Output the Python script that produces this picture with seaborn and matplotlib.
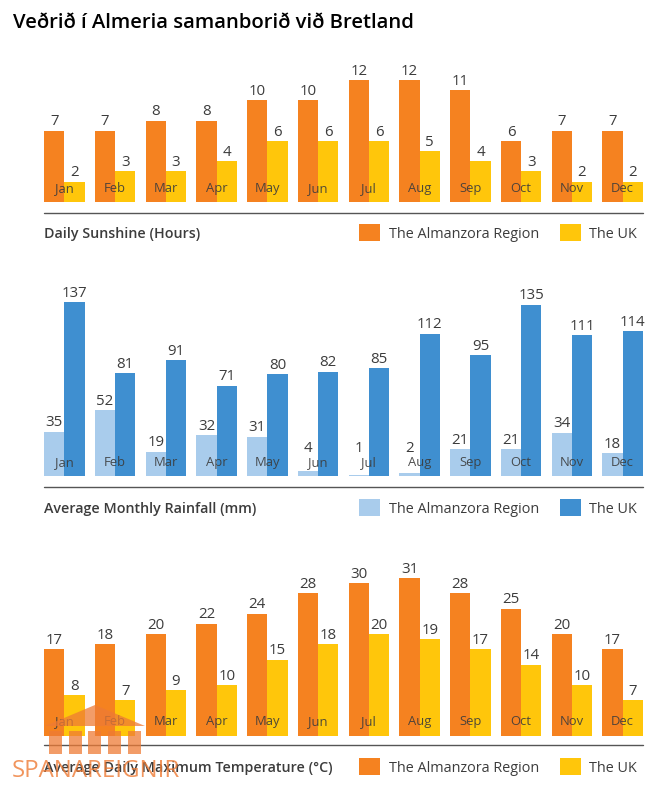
import pandas as pd
import matplotlib.pyplot as plt
import seaborn as sns
from matplotlib.lines import Line2D
from matplotlib.patches import Polygon, Rectangle

months = ['Jan', 'Feb', 'Mar', 'Apr', 'May', 'Jun', 'Jul', 'Aug', 'Sep', 'Oct', 'Nov', 'Dec']
series_names = ['The Almanzora Region', 'The UK']

sun_region = [7, 7, 8, 8, 10, 10, 12, 12, 11, 6, 7, 7]
sun_uk = [2, 3, 3, 4, 6, 6, 6, 5, 4, 3, 2, 2]
rain_region = [35, 52, 19, 32, 31, 4, 1, 2, 21, 21, 34, 18]
rain_uk = [137, 81, 91, 71, 80, 82, 85, 112, 95, 135, 111, 114]
temp_region = [17, 18, 20, 22, 24, 28, 30, 31, 28, 25, 20, 17]
temp_uk = [8, 7, 9, 10, 15, 18, 20, 19, 17, 14, 10, 7]

W, H = 663, 791
TEXT = '#3c3c3c'

sns.set_theme(style='white')
plt.rcParams['font.family'] = ['Open Sans', 'DejaVu Sans']

fig = plt.figure(figsize=(W / 100, H / 100), dpi=100)


def fx(px):
    return px / W


def fy(py):
    return 1 - py / H


def panel(region, uk, colors, title, base, scale, line_y, label_y, month_off):
    df = pd.DataFrame({
        'month': months * 2,
        'value': region + uk,
        'series': [series_names[0]] * 12 + [series_names[1]] * 12,
    })
    top = base - 185
    ax = fig.add_axes([fx(39), fy(base), fx(609), (base - top) / H])
    sns.barplot(data=df, x='month', y='value', hue='series', hue_order=series_names,
                palette=dict(zip(series_names, colors)), width=0.8, gap=0,
                saturation=1, linewidth=0, ax=ax)
    ax.set_xlim(-0.5, 11.5)
    ax.set_ylim(0, (base - top) / scale)
    for bars in ax.containers:
        texts = ax.bar_label(bars, padding=1, fontsize=10.8, color=TEXT)
        # very short bars get their number lifted clear of the month name
        for t, b in zip(texts, bars):
            px_high = b.get_height() * scale
            if px_high < 20:
                t.xyann = (0, (20 - px_high) * 0.72)
    for i, m in enumerate(months):
        ax.annotate(m, (i, 0), xytext=(0, month_off), textcoords='offset points',
                    ha='center', va='center', fontsize=9.4, color=TEXT, alpha=0.9)
    handles, labels = ax.get_legend_handles_labels()
    ax.get_legend().remove()
    ax.axis('off')

    fig.add_artist(Line2D([fx(44), fx(643)], [fy(line_y)] * 2, color='#555555', lw=1))
    fig.text(fx(44), fy(label_y + 1), title, fontsize=10.3, fontweight='semibold',
             color=TEXT, va='center')
    fig.legend(handles, labels, loc='center left', frameon=False, ncol=2,
               bbox_to_anchor=(fx(359), fy(label_y)), fontsize=10.4, labelcolor=TEXT,
               handlelength=1.45, handleheight=1.45, handletextpad=0.6,
               columnspacing=1.45, borderaxespad=0, borderpad=0)


orange, yellow = '#F58220', '#FFC60B'
panel(sun_region, sun_uk, [orange, yellow], 'Daily Sunshine (Hours)', 202, 10.17, 213, 233, 9.5)
panel(rain_region, rain_uk, ['#A9CCEC', '#3F8FD0'], 'Average Monthly Rainfall (mm)', 476, 1.27, 487, 508, 9.5)
panel(temp_region, temp_uk, [orange, yellow], 'Average Daily Maximum Temperature (°C)', 736, 5.1, 745, 767, 10.5)

fig.text(fx(13), fy(22.5), 'Veðrið í Almeria samanborið við Bretland', fontsize=14.55,
         fontweight='semibold', color='black', va='center')

# watermark
wm = '#EE7B35'
fig.add_artist(Polygon([(fx(45), fy(726)), (fx(95), fy(705)), (fx(145), fy(726))],
                       transform=fig.transFigure, facecolor=wm, edgecolor='none',
                       alpha=0.75, zorder=10))
for left in [49, 69, 88, 108, 128]:
    fig.add_artist(Rectangle((fx(left), fy(754)), fx(12.5), 23 / H, transform=fig.transFigure,
                             facecolor=wm, edgecolor='none', alpha=0.75, zorder=10))
fig.text(fx(12), fy(771), 'SPANAREIGNIR', fontsize=17.3, color=wm, alpha=0.8,
         va='center', zorder=10)

fig.savefig('out.png', dpi=100)
